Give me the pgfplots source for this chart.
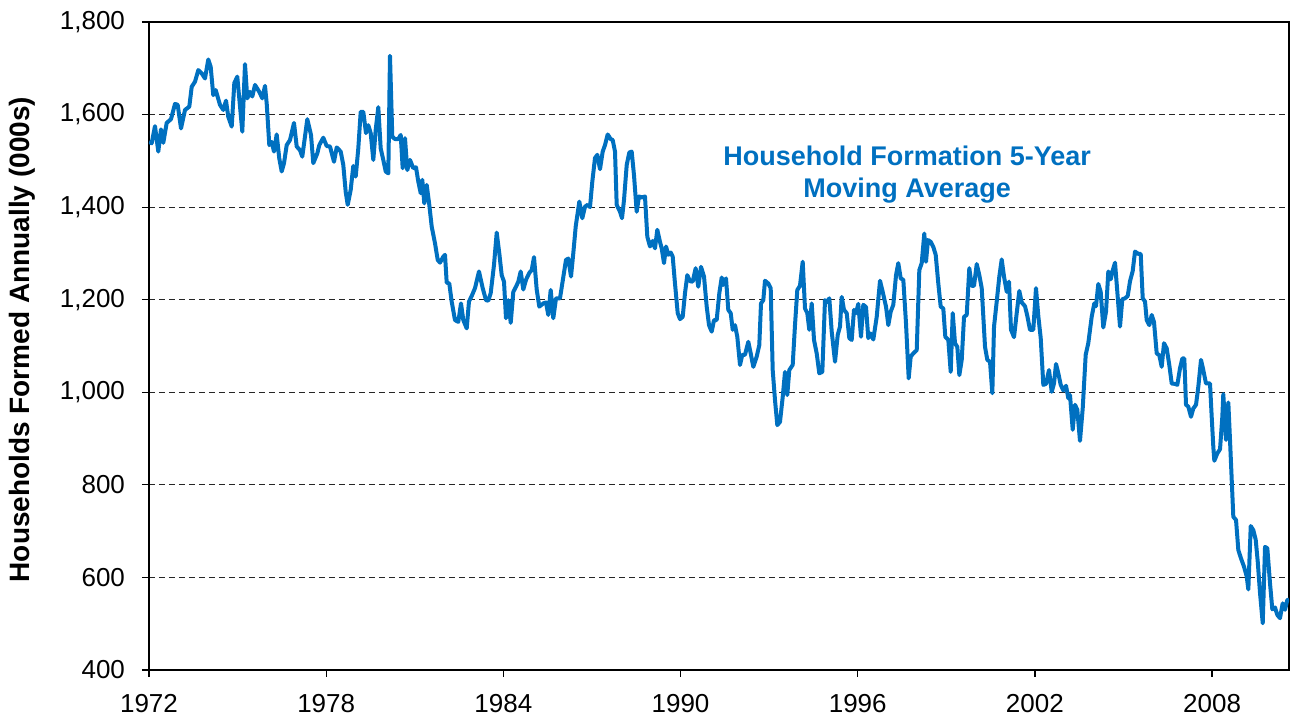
\documentclass[border=0pt]{standalone}
\usepackage{fontspec}
\setmainfont{Liberation Sans}
\usepackage{pgfplots}
\pgfplotsset{compat=1.18}
\definecolor{hfblue}{RGB}{0,112,192}

\begin{document}
\begin{tikzpicture}
\begin{axis}[
    scale only axis,
    width=570pt, height=324pt,
    xmin=1972, xmax=2010.605,
    ymin=400, ymax=1800,
    xtick={1972,1978,1984,1990,1996,2002,2008},
    ytick={400,600,800,1000,1200,1400,1600,1800},
    xtick pos=bottom, ytick pos=left,
    tick align=outside, major tick length=3.5pt,
    axis line style={black, line width=0.6pt},
    tick style={black, line width=0.6pt},
    ymajorgrids,
    major grid style={black!85, dash pattern=on 3pt off 2pt, line width=0.5pt},
    /pgf/number format/assume math mode=true,
    ticklabel style={font=\fontsize{13}{15}\selectfont},
    x tick label style={/pgf/number format/1000 sep={}, yshift=-5pt},
    y tick label style={/pgf/number format/1000 sep={,}, xshift=-5pt},
    ylabel={Households Formed Annually (000s)},
    every axis y label/.style={at={(axis description cs:-0.1114,0.51)}, anchor=center, rotate=90,
        font=\bfseries\fontsize{14}{16}\selectfont},
    clip=true,
]
\addplot[color=hfblue, line width=2pt, line join=round, no markers] table {
x y
1972.000 1541
1972.091 1538
1972.203 1575
1972.315 1520
1972.406 1568
1972.484 1539
1972.599 1582
1972.745 1590
1972.880 1623
1972.972 1621
1973.084 1570
1973.219 1610
1973.365 1617
1973.446 1660
1973.558 1671
1973.670 1696
1973.785 1689
1973.896 1678
1974.008 1719
1974.089 1703
1974.177 1642
1974.259 1653
1974.404 1621
1974.516 1610
1974.608 1630
1974.685 1595
1974.801 1574
1974.889 1668
1974.990 1682
1975.160 1563
1975.251 1709
1975.329 1635
1975.420 1649
1975.498 1639
1975.590 1664
1975.735 1649
1975.837 1635
1975.928 1662
1975.986 1624
1976.074 1534
1976.155 1541
1976.233 1520
1976.324 1557
1976.412 1505
1976.494 1477
1976.572 1495
1976.663 1534
1976.775 1545
1976.910 1582
1977.002 1531
1977.113 1523
1977.191 1509
1977.361 1590
1977.486 1556
1977.564 1495
1977.699 1516
1977.767 1534
1977.902 1550
1978.018 1532
1978.129 1531
1978.265 1498
1978.356 1529
1978.492 1520
1978.580 1491
1978.661 1433
1978.729 1405
1978.830 1437
1978.918 1489
1979.000 1466
1979.088 1527
1979.169 1606
1979.257 1606
1979.348 1560
1979.426 1577
1979.508 1560
1979.596 1502
1979.677 1567
1979.765 1616
1979.846 1527
1979.934 1502
1980.016 1477
1980.104 1473
1980.161 1727
1980.239 1552
1980.331 1547
1980.442 1547
1980.524 1556
1980.591 1484
1980.669 1549
1980.747 1480
1980.839 1502
1980.950 1484
1981.042 1486
1981.120 1455
1981.201 1430
1981.255 1459
1981.323 1408
1981.404 1448
1981.492 1405
1981.573 1358
1981.685 1322
1981.777 1286
1981.854 1280
1981.966 1293
1982.024 1297
1982.081 1237
1982.169 1235
1982.250 1196
1982.362 1156
1982.474 1152
1982.566 1192
1982.643 1156
1982.759 1138
1982.836 1196
1982.928 1208
1983.040 1225
1983.175 1261
1983.300 1225
1983.412 1199
1983.490 1198
1983.571 1214
1983.683 1275
1983.775 1345
1983.863 1300
1983.944 1253
1984.022 1239
1984.089 1160
1984.167 1199
1984.249 1150
1984.337 1217
1984.428 1228
1984.506 1239
1984.587 1261
1984.675 1222
1984.767 1243
1984.879 1258
1984.960 1264
1985.038 1292
1985.129 1222
1985.217 1185
1985.353 1192
1985.444 1194
1985.522 1167
1985.603 1221
1985.691 1160
1985.783 1203
1985.918 1203
1985.996 1235
1986.121 1286
1986.199 1289
1986.291 1250
1986.368 1300
1986.450 1358
1986.572 1412
1986.673 1376
1986.765 1401
1986.856 1405
1986.934 1400
1987.012 1455
1987.103 1506
1987.181 1513
1987.273 1482
1987.364 1520
1987.442 1534
1987.533 1557
1987.635 1547
1987.703 1545
1987.781 1520
1987.838 1405
1987.950 1390
1988.018 1376
1988.085 1415
1988.177 1491
1988.265 1518
1988.346 1520
1988.424 1469
1988.515 1390
1988.593 1423
1988.685 1421
1988.796 1423
1988.875 1336
1988.966 1315
1989.057 1327
1989.135 1311
1989.213 1351
1989.304 1325
1989.362 1311
1989.440 1279
1989.508 1315
1989.586 1297
1989.667 1302
1989.735 1293
1989.812 1235
1989.904 1171
1989.982 1158
1990.073 1163
1990.151 1214
1990.229 1253
1990.320 1240
1990.412 1239
1990.513 1268
1990.601 1228
1990.693 1271
1990.795 1250
1990.886 1185
1990.964 1145
1991.055 1131
1991.133 1156
1991.224 1156
1991.313 1214
1991.394 1248
1991.448 1232
1991.540 1246
1991.617 1178
1991.699 1171
1991.767 1135
1991.844 1145
1991.922 1120
1992.014 1059
1992.091 1081
1992.183 1081
1992.295 1109
1992.376 1084
1992.464 1055
1992.579 1077
1992.667 1102
1992.725 1192
1992.803 1199
1992.860 1241
1992.972 1235
1993.053 1225
1993.121 1048
1993.199 983
1993.277 929
1993.368 936
1993.460 990
1993.538 1044
1993.615 994
1993.683 1048
1993.798 1059
1993.876 1145
1993.954 1221
1994.045 1230
1994.137 1282
1994.215 1181
1994.293 1171
1994.360 1135
1994.442 1192
1994.520 1113
1994.611 1084
1994.699 1041
1994.801 1044
1994.892 1199
1994.970 1195
1995.038 1203
1995.119 1131
1995.231 1066
1995.323 1124
1995.400 1142
1995.458 1206
1995.535 1178
1995.627 1171
1995.715 1117
1995.796 1113
1995.874 1178
1995.942 1171
1996.020 1191
1996.111 1120
1996.189 1189
1996.281 1184
1996.358 1117
1996.440 1127
1996.528 1114
1996.643 1163
1996.755 1241
1996.846 1217
1996.958 1185
1997.036 1145
1997.117 1174
1997.205 1189
1997.297 1253
1997.374 1279
1997.456 1246
1997.544 1243
1997.635 1149
1997.726 1030
1997.794 1077
1997.882 1084
1997.998 1091
1998.086 1264
1998.167 1279
1998.255 1343
1998.312 1282
1998.380 1329
1998.472 1325
1998.560 1314
1998.641 1297
1998.729 1235
1998.810 1185
1998.898 1181
1998.966 1120
1999.068 1113
1999.149 1044
1999.217 1171
1999.295 1106
1999.373 1098
1999.441 1037
1999.522 1070
1999.600 1163
1999.691 1167
1999.779 1268
1999.860 1230
1999.938 1230
2000.030 1277
2000.118 1253
2000.199 1225
2000.311 1098
2000.389 1070
2000.480 1066
2000.558 998
2000.616 1142
2000.707 1196
2000.795 1250
2000.876 1287
2000.954 1250
2001.046 1217
2001.123 1239
2001.191 1135
2001.293 1119
2001.384 1171
2001.472 1219
2001.554 1194
2001.665 1186
2001.743 1165
2001.834 1135
2001.946 1135
2002.037 1225
2002.115 1165
2002.197 1117
2002.285 1016
2002.376 1018
2002.478 1048
2002.570 1001
2002.647 1019
2002.715 1061
2002.793 1041
2002.874 1016
2002.962 1004
2003.054 1014
2003.132 987
2003.189 994
2003.280 919
2003.358 973
2003.436 962
2003.527 895
2003.619 965
2003.720 1081
2003.808 1106
2003.923 1163
2004.011 1192
2004.069 1186
2004.147 1234
2004.228 1217
2004.316 1140
2004.408 1174
2004.486 1261
2004.567 1244
2004.635 1263
2004.713 1280
2004.791 1217
2004.882 1142
2004.960 1201
2005.052 1203
2005.143 1208
2005.221 1240
2005.312 1262
2005.390 1304
2005.502 1299
2005.583 1299
2005.651 1203
2005.729 1196
2005.786 1156
2005.874 1145
2005.956 1167
2006.033 1152
2006.125 1084
2006.213 1080
2006.294 1055
2006.372 1106
2006.463 1095
2006.551 1059
2006.633 1019
2006.745 1018
2006.823 1016
2006.914 1052
2006.992 1073
2007.060 1073
2007.117 973
2007.195 969
2007.286 947
2007.364 965
2007.456 973
2007.534 1012
2007.625 1070
2007.703 1048
2007.794 1019
2007.930 1019
2007.987 947
2008.042 882
2008.076 852
2008.177 868
2008.269 877
2008.347 947
2008.380 996
2008.472 897
2008.550 978
2008.607 897
2008.665 811
2008.719 731
2008.811 724
2008.889 659
2008.980 641
2009.082 623
2009.173 602
2009.228 574
2009.309 711
2009.397 702
2009.478 681
2009.546 634
2009.624 566
2009.715 501
2009.793 666
2009.871 663
2009.962 587
2010.040 531
2010.131 535
2010.209 519
2010.300 512
2010.391 544
2010.469 530
2010.547 551
2010.605 552
};
\node[align=center, text=hfblue, font=\bfseries\fontsize{13.5}{16}\selectfont]
    at (rel axis cs:0.665,0.765) {Household Formation 5-Year\\Moving Average};
\end{axis}
\pgfresetboundingbox
\path ([shift={(-74.5pt,-22.5pt)}]current axis.south west) rectangle ([shift={(1pt,11pt)}]current axis.north east);
\end{tikzpicture}
\end{document}
